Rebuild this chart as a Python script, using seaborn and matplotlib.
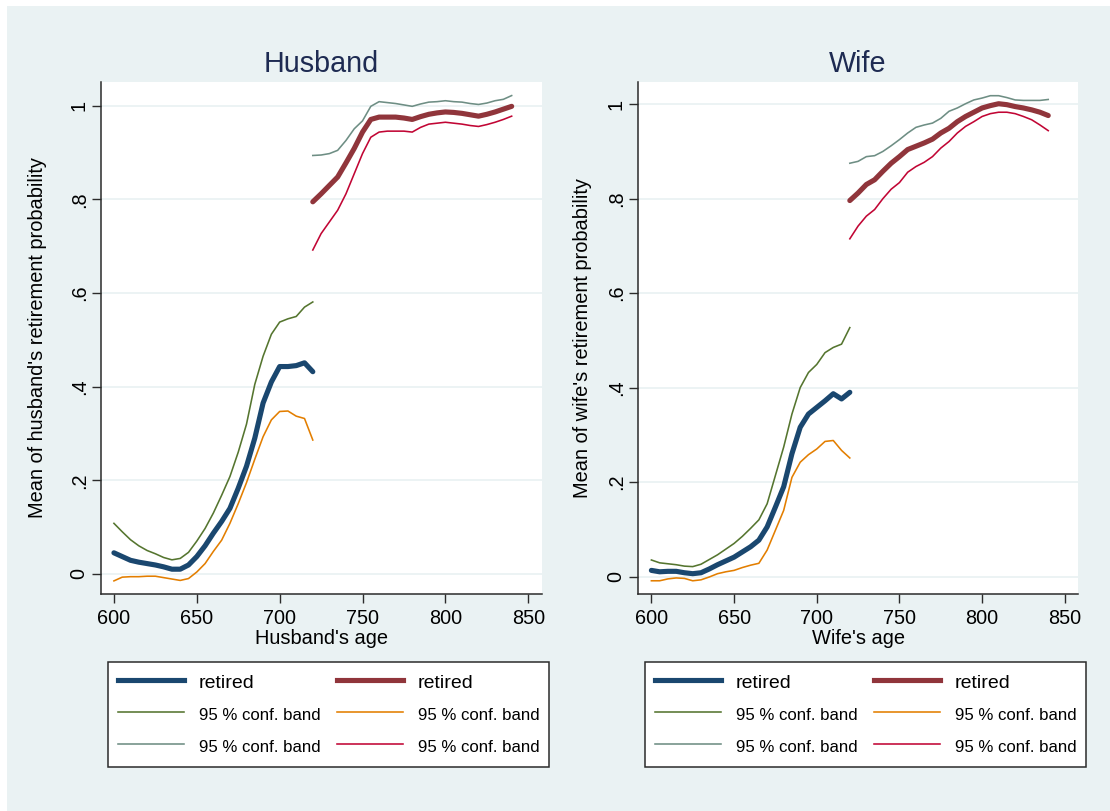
import matplotlib
matplotlib.use("Agg")
import matplotlib.pyplot as plt
from matplotlib.lines import Line2D
from matplotlib.patches import Rectangle
import seaborn as sns
import pandas as pd

# ---------------- data ----------------
age_lo = [600, 605, 610, 615, 620, 625, 630, 635, 640, 645, 650, 655, 660,
          665, 670, 675, 680, 685, 690, 695, 700, 705, 710, 715, 720]
age_hi = [720, 725, 730, 735, 740, 745, 750, 755, 760, 765, 770, 775, 780,
          785, 790, 795, 800, 805, 810, 815, 820, 825, 830, 835, 840]

# Husband, below 720
h_ret_lo = [.045, .037, .029, .025, .022, .019, .015, .010, .010, .019, .037, .060, .087,
            .112, .140, .183, .230, .290, .365, .410, .443, .443, .445, .451, .432]
h_ub_lo = [.108, .090, .073, .060, .050, .043, .035, .030, .033, .046, .070, .097, .130,
           .168, .208, .260, .320, .405, .465, .512, .538, .545, .550, .570, .581]
h_lb_lo = [-.015, -.007, -.006, -.006, -.005, -.005, -.008, -.011, -.014, -.010, .004, .022, .048,
           .072, .108, .150, .195, .245, .293, .329, .347, .348, .337, .332, .286]
# Husband, 720 and above
h_ret_hi = [.795, .812, .830, .848, .878, .909, .944, .971, .976, .976, .976, .974, .971,
            .977, .982, .985, .987, .986, .984, .981, .978, .982, .987, .993, .999]
h_ub_hi = [.894, .895, .898, .905, .926, .951, .968, .999, 1.009, 1.007, 1.005, 1.002, .999,
           1.004, 1.008, 1.009, 1.011, 1.009, 1.008, 1.005, 1.003, 1.006, 1.011, 1.014, 1.022]
h_lb_hi = [.692, .727, .752, .777, .812, .855, .898, .933, .944, .946, .946, .946, .944,
           .954, .961, .963, .965, .963, .961, .958, .956, .960, .965, .971, .978]

# Wife, below 720
w_ret_lo = [.013, .010, .011, .011, .008, .006, .008, .016, .025, .033, .041, .052, .063,
            .077, .105, .147, .190, .260, .316, .344, .358, .372, .387, .376, .390]
w_ub_lo = [.035, .029, .027, .025, .022, .021, .026, .036, .046, .058, .070, .085, .102,
           .120, .154, .214, .274, .344, .400, .432, .449, .474, .485, .492, .527]
w_lb_lo = [-.009, -.009, -.005, -.003, -.004, -.009, -.007, -.001, .006, .010, .013, .019, .024,
           .028, .056, .098, .140, .210, .242, .258, .270, .286, .288, .267, .251]
# Wife, 720 and above
w_ret_hi = [.796, .812, .830, .840, .858, .875, .889, .904, .911, .918, .926, .939, .949,
            .963, .974, .983, .992, .997, 1.001, .999, .995, .992, .988, .983, .976]
w_ub_hi = [.875, .879, .889, .891, .900, .912, .925, .939, .951, .956, .960, .970, .985,
           .992, 1.001, 1.009, 1.013, 1.018, 1.018, 1.014, 1.009, 1.008, 1.008, 1.008, 1.010]
w_lb_hi = [.715, .742, .763, .777, .800, .820, .834, .856, .868, .877, .889, .907, .921,
           .939, .953, .963, .974, .980, .983, .983, .980, .974, .967, .956, .944]

y_ticks = [0, .2, .4, .6, .8, 1]
y_tick_labels = ["0", ".2", ".4", ".6", ".8", "1"]
x_ticks = [600, 650, 700, 750, 800, 850]
legend_labels = ["retired", "95 % conf. band", "95 % conf. band",
                 "retired", "95 % conf. band", "95 % conf. band"]

# ---------------- style ----------------
NAVY = "#1a476f"
MAROON = "#90353b"
GREEN = "#55752f"
ORANGE = "#e37e00"
TEAL = "#6e8e84"
CRAN = "#c10534"
BG = "#eaf2f3"
AXC = "#2b2b2b"

plt.rcParams["font.family"] = ["Liberation Sans", "DejaVu Sans"]

W, H = 1110, 811
fig = plt.figure(figsize=(W / 100, H / 100), dpi=100)
fig.patch.set_facecolor("white")
fig.patches.append(Rectangle((7 / W, 0), 1, 1 - 6 / H, transform=fig.transFigure,
                             facecolor=BG, edgecolor="none", zorder=-10))

THICK = 3.7
THIN = 1.15

panels = [
    dict(title="Husband", xlabel="Husband's age",
         ylabel="Mean of husband's retirement probability",
         rect=[101 / W, 1 - 594 / H, 441 / W, 512 / H],
         xlim=(592.2, 858.3), ylim=(-0.043, 1.051),
         lo=(h_ret_lo, h_ub_lo, h_lb_lo), hi=(h_ret_hi, h_ub_hi, h_lb_hi),
         leg_x=108, ylab_x=38),
    dict(title="Wife", xlabel="Wife's age",
         ylabel="Mean of wife's retirement probability",
         rect=[638 / W, 1 - 594 / H, 440 / W, 512 / H],
         xlim=(591.9, 858.0), ylim=(-0.037, 1.047),
         lo=(w_ret_lo, w_ub_lo, w_lb_lo), hi=(w_ret_hi, w_ub_hi, w_lb_hi),
         leg_x=645, ylab_x=582),
]

for p in panels:
    ax = fig.add_axes(p["rect"])
    ax.set_facecolor("white")
    for yt in y_ticks:
        ax.axhline(yt, color=BG, lw=1.3, zorder=0)

    ret_lo, ub_lo, lb_lo = p["lo"]
    ret_hi, ub_hi, lb_hi = p["hi"]
    df_lo = pd.DataFrame({"age": age_lo, "ret": ret_lo, "ub": ub_lo, "lb": lb_lo})
    df_hi = pd.DataFrame({"age": age_hi, "ret": ret_hi, "ub": ub_hi, "lb": lb_hi})

    sns.lineplot(data=df_lo, x="age", y="ub", ax=ax, color=GREEN, lw=THIN, zorder=3)
    sns.lineplot(data=df_lo, x="age", y="lb", ax=ax, color=ORANGE, lw=THIN, zorder=3)
    sns.lineplot(data=df_hi, x="age", y="ub", ax=ax, color=TEAL, lw=THIN, zorder=3)
    sns.lineplot(data=df_hi, x="age", y="lb", ax=ax, color=CRAN, lw=THIN, zorder=3)
    sns.lineplot(data=df_lo, x="age", y="ret", ax=ax, color=NAVY, lw=THICK, zorder=4,
                 solid_capstyle="round")
    sns.lineplot(data=df_hi, x="age", y="ret", ax=ax, color=MAROON, lw=THICK, zorder=4,
                 solid_capstyle="round")

    ax.set_xlim(*p["xlim"])
    ax.set_ylim(*p["ylim"])
    ax.set_xticks(x_ticks)
    ax.set_xticklabels([str(v) for v in x_ticks])
    ax.set_yticks(y_ticks)
    ax.set_yticklabels(y_tick_labels, rotation=90, va="center")
    ax.tick_params(axis="both", length=6.3, width=1.0, color=AXC, labelsize=14.3,
                   labelcolor="black")
    ax.tick_params(axis="x", pad=4.5)
    ax.tick_params(axis="y", pad=2.6)
    for s in ["top", "right"]:
        ax.spines[s].set_visible(False)
    for s in ["left", "bottom"]:
        ax.spines[s].set_color(AXC)
        ax.spines[s].set_linewidth(1.1)

    ax.set_xlabel(p["xlabel"], fontsize=14.4, va="center")
    ax.xaxis.set_label_coords(0.5, (594 - 639) / 512)
    ax.set_ylabel(p["ylabel"], fontsize=14.4, va="center")
    ax.yaxis.set_label_coords((p["ylab_x"] - p["rect"][0] * W) / (p["rect"][2] * W), 0.5)
    ax.set_title(p["title"], fontsize=20.7, color="#1e2b52", pad=7.5)

    handles = [
        Line2D([], [], color=NAVY, lw=THICK),
        Line2D([], [], color=GREEN, lw=THIN),
        Line2D([], [], color=TEAL, lw=THIN),
        Line2D([], [], color=MAROON, lw=THICK),
        Line2D([], [], color=ORANGE, lw=THIN),
        Line2D([], [], color=CRAN, lw=THIN),
    ]
    leg = ax.legend(handles, legend_labels, ncol=2, loc="upper left",
                    bbox_to_anchor=(p["leg_x"] / W, 1 - 662 / H),
                    bbox_transform=fig.transFigure, borderaxespad=0,
                    fontsize=12.1, handlelength=3.93, handletextpad=0.86,
                    handleheight=1.5, columnspacing=1.0, borderpad=0.6,
                    labelspacing=0.69, frameon=True, fancybox=False, framealpha=1)
    leg.get_frame().set_edgecolor(AXC)
    leg.get_frame().set_linewidth(1.1)
    leg.get_frame().set_facecolor("white")
    for i, t in enumerate(leg.get_texts()):
        if legend_labels[i] == "retired":
            t.set_fontsize(14.0)

fig.savefig("out.png", dpi=100, facecolor=fig.get_facecolor())
